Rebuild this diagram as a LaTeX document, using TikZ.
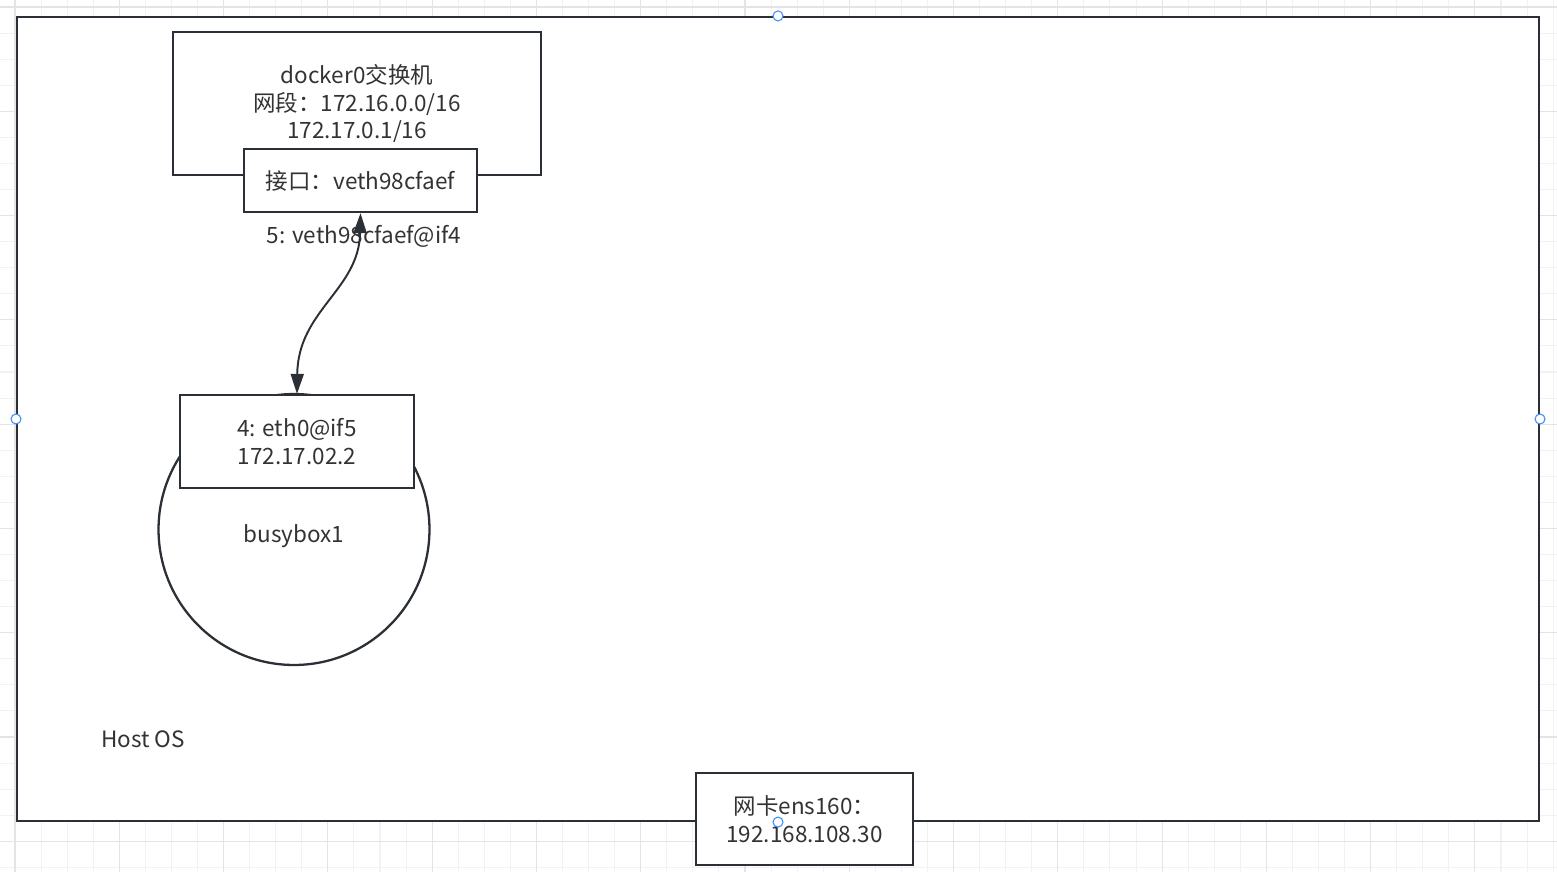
\documentclass[tikz,border=0pt]{standalone}
\usepackage{fontspec}
\setmainfont{Noto Sans CJK SC}
\usetikzlibrary{arrows.meta}
\definecolor{linegray}{HTML}{2B3036}
\definecolor{textgray}{HTML}{333333}
\definecolor{gridminor}{HTML}{F2F2F2}
\definecolor{gridmajor}{HTML}{E4E4E4}
\definecolor{handleblue}{HTML}{3D8EF5}
\begin{document}
\begin{tikzpicture}[x=0.02cm, y=-0.02cm,
    every node/.style={font=\fontsize{12.8}{15.6}\selectfont, text=textgray, align=center},
    box/.style={draw=linegray, line width=1.3pt, fill=white, inner sep=0pt},
    handle/.style={circle, draw=handleblue, fill=white, line width=0.6pt, minimum size=0.2cm, inner sep=0pt},
    link/.style={draw=linegray, line width=1.1pt, {Triangle[length=4mm,width=2.6mm]}-{Triangle[length=4mm,width=2.6mm]}}]
    \useasboundingbox (0,0) rectangle (1557,872);
    % grid
    \foreach \i in {0,...,59} {
        \pgfmathsetmacro\gx{15+26.07*\i}
        \draw[gridminor, line width=0.6pt] (\gx,0) -- (\gx,872);
    }
    \foreach \j in {0,...,33} {
        \pgfmathsetmacro\gy{7+26.07*\j}
        \draw[gridminor, line width=0.6pt] (0,\gy) -- (1557,\gy);
    }
    \foreach \i in {0,4,...,56} {
        \pgfmathsetmacro\gx{15+26.07*\i}
        \draw[gridmajor, line width=0.6pt] (\gx,0) -- (\gx,872);
    }
    \foreach \j in {0,4,...,32} {
        \pgfmathsetmacro\gy{7+26.07*\j}
        \draw[gridmajor, line width=0.6pt] (0,\gy) -- (1557,\gy);
    }

    \node[box, minimum width=30.44cm, minimum height=16.08cm] (host) at (778,419) {};
    \node (hostlabel) at (143,739) {Host OS};

    \node[box, minimum width=7.36cm, minimum height=2.86cm] (docker) at (357,103.5)
        {docker0交换机\\网段：172.16.0.0/16\\172.17.0.1/16};
    \node[box, minimum width=4.66cm, minimum height=1.26cm] (veth) at (360.5,180.5) {接口：veth98cfaef};
    \node (vethlabel) at (364,236) {5: veth98cfaef@if4};

    \node[box, circle, minimum size=5.42cm] (busybox) at (294,529.5) {};
    \node (busylabel) at (294,536) {busybox1};
    \node[box, minimum width=4.68cm, minimum height=1.86cm] (eth0) at (297,441.5)
        {4: eth0@if5\\172.17.02.2};

    \draw[link] (eth0.north) .. controls (298,310) and (359,290) .. (veth.south);

    \node[box, minimum width=4.34cm, minimum height=1.84cm] (ens) at (804.5,819)
        {网卡ens160：\\192.168.108.30};

    % selection handles
    \node[handle] (htop) at (host.north) {};
    \node[handle] (hleft) at (host.west) {};
    \node[handle] (hright) at (host.east) {};
    \node[handle] (hbottom) at (host.south) {};
\end{tikzpicture}
\end{document}
